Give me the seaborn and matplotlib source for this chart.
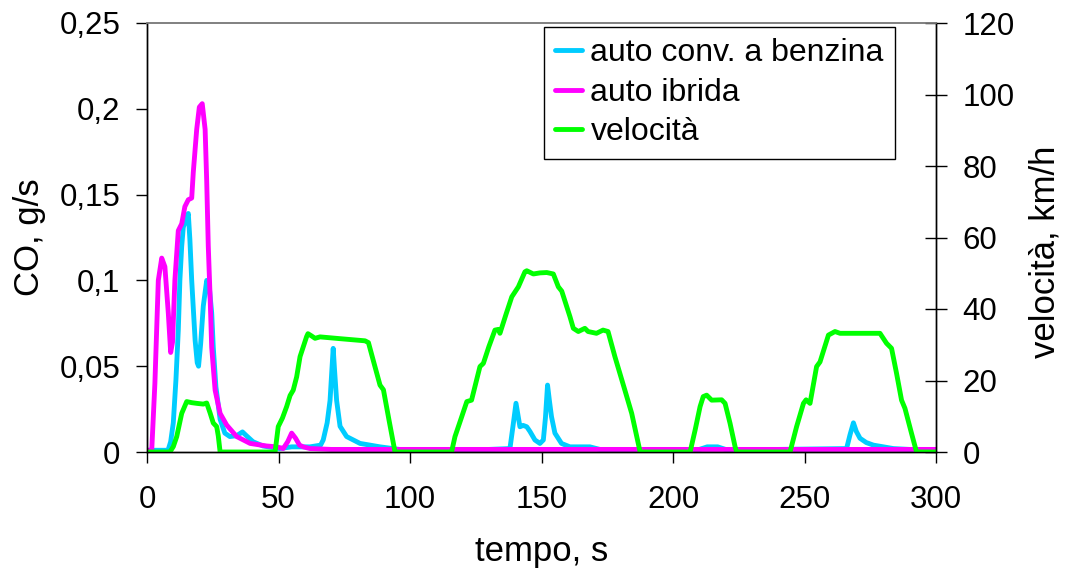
import matplotlib
matplotlib.use("Agg")
import matplotlib.pyplot as plt
import seaborn as sns
import pandas as pd

# CO emission rate, conventional petrol car (g/s)
t_benzina = [0, 8, 9, 10, 11, 11.9, 12.5, 13.2, 13.8, 14.5, 15.7, 16.3, 17, 18.3, 19.1, 19.6,
             20.4, 21.4, 22.7, 23.7, 24.6, 25.2, 26.2, 27.8, 29.6, 31.5, 34.1, 36.3, 37.8, 40.3,
             44.1, 50.4, 55, 62, 66, 67, 68.5, 69.6, 70.3, 70.8, 71.3, 72.1, 73.4, 75.9, 81,
             88.6, 96, 110, 130, 138, 139.3, 140.3, 141.8, 143, 144.4, 145.6, 147.5, 149.4,
             150.7, 151.5, 152.3, 153, 153.8, 155.1, 157.6, 160.8, 168.4, 172.2, 190, 210,
             213, 217, 220, 240, 266, 267.3, 268.6, 269.7, 271.1, 273.5, 276.2, 280, 283.8,
             290, 300]
co_benzina = [0.001, 0.001, 0.006, 0.017, 0.042, 0.071, 0.1, 0.12, 0.131, 0.134, 0.139, 0.124,
              0.1, 0.065, 0.052, 0.05, 0.063, 0.085, 0.1, 0.096, 0.081, 0.061, 0.038, 0.019,
              0.011, 0.009, 0.0095, 0.0117, 0.0095, 0.006, 0.0035, 0.002, 0.003, 0.003, 0.004,
              0.007, 0.017, 0.03, 0.048, 0.0604, 0.048, 0.03, 0.015, 0.009, 0.005, 0.003,
              0.0015, 0.0015, 0.0015, 0.002, 0.0167, 0.0284, 0.0147, 0.0155, 0.0147, 0.012,
              0.007, 0.005, 0.007, 0.02, 0.039, 0.03, 0.0206, 0.011, 0.005, 0.003, 0.003, 0.0015,
              0.0015, 0.0015, 0.003, 0.003, 0.0015, 0.0015, 0.002, 0.01, 0.017, 0.012, 0.008,
              0.0055, 0.004, 0.003, 0.002, 0.0015, 0.0015]

# CO emission rate, hybrid car (g/s)
t_ibrida = [0, 1.8, 3, 4.3, 5.6, 6.8, 8.1, 9.0, 9.7, 10.6, 11.9, 13.2, 14.4, 15.7, 17, 17.6,
            18.9, 19.9, 21.0, 22.1, 22.7, 23.3, 24, 24.6, 25.9, 27.8, 30.3, 34.1, 39.2, 45.5,
            49.3, 51.8, 53.5, 55, 56.5, 58, 59.4, 62, 70, 100, 150, 200, 250, 300]
co_ibrida = [0.001, 0.001, 0.04, 0.1, 0.113, 0.108, 0.081, 0.058, 0.064, 0.1, 0.129, 0.133,
             0.143, 0.147, 0.148, 0.163, 0.188, 0.201, 0.203, 0.188, 0.158, 0.12, 0.09, 0.061,
             0.036, 0.0225, 0.0157, 0.009, 0.005, 0.0035, 0.003, 0.002, 0.006, 0.011, 0.008,
             0.004, 0.003, 0.002, 0.0015, 0.0015, 0.0015, 0.0015, 0.0015, 0.0015]

# Vehicle speed (km/h)
t_velocita = [0, 8.7, 10, 11.3, 13.2, 15.1, 17, 19, 21.4, 22.7, 24, 25.2, 26.5, 27.1, 27.8,
              48.7, 49.9, 51.5, 53.1, 54.4, 55.6, 56.9, 58.2, 60.7, 61.2, 62.5, 63.9, 65.8,
              73.4, 82.9, 84.2, 86, 88.6, 89.9, 92, 94.3, 115.8, 117.1, 119.5, 121.6, 123.4,
              126.6, 127.9, 130, 132.3, 133.6, 134.2, 136.5, 138.7, 141.2, 143.7, 144.4, 146.9,
              149.4, 152, 154.5, 156.4, 157.7, 160.8, 162.1, 164, 166.5, 167.7, 170.9, 173.4,
              175.3, 177.9, 179.8, 181.7, 184.3, 187.5, 206.5, 208.4, 210.3, 211.5, 212.8,
              214.7, 218.5, 219.8, 221.7, 223.6, 224.2, 244.5, 247, 249.6, 250.6, 252.1, 254.6,
              255.9, 259.1, 261.6, 263.5, 278.7, 281.2, 283.1, 285, 286.9, 288.2, 290.7, 292.6,
              300]
v_velocita = [0, 0, 1.5, 4.3, 10.8, 14.1, 13.8, 13.6, 13.4, 13.7, 10.9, 8.1, 7.1, 4.5, 0,
              0, 7.1, 9.5, 12.7, 15.8, 17.3, 21, 26.7, 32.3, 33.1, 32.5, 31.8, 32.2,
              31.7, 31.1, 30.6, 25.7, 18.7, 17.4, 9, 0, 0, 4.3, 9.5, 14.1, 14.5,
              23.9, 24.8, 29.5, 34.1, 34.3, 33.2, 38.5, 43.4, 46.2, 50.4, 50.7, 49.8,
              50.1, 50.2, 49.8, 46.2, 45, 37.9, 34.6, 33.7, 34.6, 33.7, 33.2, 34.1,
              33.7, 26.7, 22, 17.3, 10.8, 0, 0, 6.1, 12.7, 15.5, 15.9,
              14.5, 14.6, 13.6, 8, 1.5, 0, 0, 7.1, 13.6, 14.6, 13.6, 23.9,
              25.2, 32.7, 33.7, 33.2, 33.2, 30.4, 29, 22, 14.5, 12.2, 5.2, 0,
              0]

co_ticks = [0, 0.05, 0.1, 0.15, 0.2, 0.25]
co_ticklabels = ["0", "0,05", "0,1", "0,15", "0,2", "0,25"]
v_ticks = [0, 20, 40, 60, 80, 100, 120]
x_ticks = [0, 50, 100, 150, 200, 250, 300]

labels = ["auto conv. a benzina", "auto ibrida", "velocità"]
colors = ["#00CCFF", "#FF00FF", "#00FF00"]

sns.set_style("white")
plt.rcParams["font.family"] = ["Liberation Sans", "DejaVu Sans"]
plt.rcParams["text.color"] = "black"
plt.rcParams["axes.labelcolor"] = "black"
plt.rcParams["xtick.color"] = "black"
plt.rcParams["ytick.color"] = "black"

fig = plt.figure(figsize=(10.67, 5.68), dpi=100)
ax = fig.add_axes([147 / 1067, 1 - 452 / 568, (936 - 147) / 1067, (452 - 23) / 568])
ax2 = ax.twinx()

df_b = pd.DataFrame({"t": t_benzina, "co": co_benzina})
df_i = pd.DataFrame({"t": t_ibrida, "co": co_ibrida})
df_v = pd.DataFrame({"t": t_velocita, "v": v_velocita})

lw = 3.5
sns.lineplot(data=df_b, x="t", y="co", ax=ax, color=colors[0], lw=lw, label=labels[0],
             legend=False)
sns.lineplot(data=df_i, x="t", y="co", ax=ax, color=colors[1], lw=lw, label=labels[1],
             legend=False)
sns.lineplot(data=df_v, x="t", y="v", ax=ax2, color=colors[2], lw=lw, label=labels[2],
             legend=False)

ax.set_xlim(0, 300)
ax.set_ylim(0, 0.25)
ax2.set_ylim(0, 120)
ax.set_xticks(x_ticks)
ax.set_xticklabels([str(x) for x in x_ticks])
ax.set_yticks(co_ticks)
ax.set_yticklabels(co_ticklabels)
ax2.set_yticks(v_ticks)
ax2.set_yticklabels([str(v) for v in v_ticks])

tick_fs = 22.5
label_fs = 25
ax.tick_params(axis="y", direction="out", length=8, width=1, pad=11, labelsize=tick_fs,
               color="black", labelcolor="black", left=True)
ax.tick_params(axis="x", direction="out", length=8, width=1, pad=16, labelsize=tick_fs,
               color="black", labelcolor="black", bottom=True)
ax2.tick_params(axis="y", direction="inout", length=16, width=1, pad=11, labelsize=tick_fs,
                color="black", labelcolor="black", right=True)

for a in (ax, ax2):
    for side in ("left", "bottom", "right"):
        a.spines[side].set_color("black")
        a.spines[side].set_linewidth(1)
    a.spines["top"].set_color("#808080")
    a.spines["top"].set_linewidth(1.2)

ax.set_xlabel("tempo, s", fontsize=label_fs, labelpad=14, color="black")
ax.set_ylabel("CO, g/s", fontsize=label_fs, labelpad=10, color="black")
ax2.set_ylabel("velocità, km/h", fontsize=label_fs, labelpad=10, color="black")
ax2.yaxis.label.set_y(0.466)

h1, l1 = ax.get_legend_handles_labels()
h2, l2 = ax2.get_legend_handles_labels()
leg = ax2.legend(h1 + h2, l1 + l2, loc="upper right",
                 bbox_to_anchor=(895 / 1067, 1 - 27 / 568),
                 bbox_transform=fig.transFigure, fontsize=23, frameon=True,
                 fancybox=False, framealpha=1, edgecolor="black", borderaxespad=0,
                 handlelength=0.85, handletextpad=0.25, labelspacing=0.3, borderpad=0.35)
leg.get_frame().set_linewidth(1)
for txt in leg.get_texts():
    txt.set_color("black")

fig.savefig("out.png", dpi=100)
